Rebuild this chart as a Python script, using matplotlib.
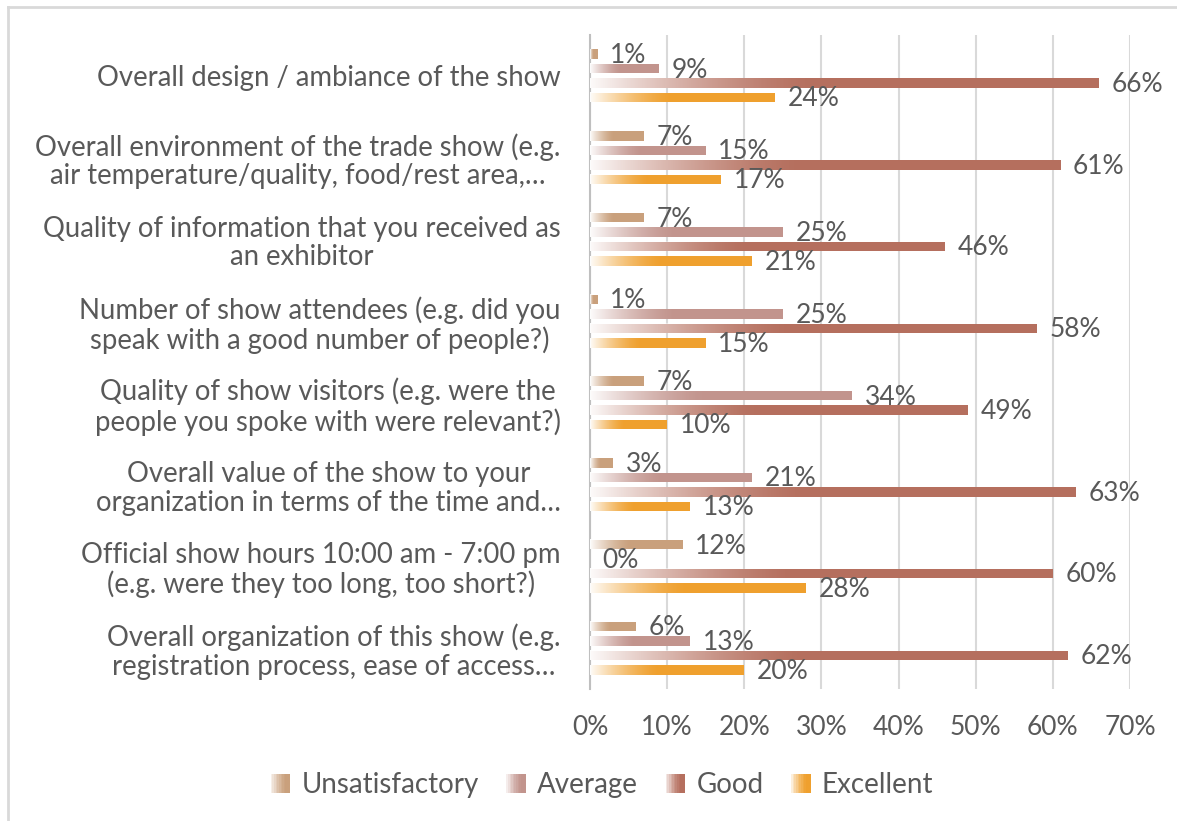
import numpy as np
import matplotlib
matplotlib.use("Agg")
import matplotlib.pyplot as plt
from matplotlib.patches import Rectangle, Patch
from matplotlib.lines import Line2D
from matplotlib.legend_handler import HandlerBase
from matplotlib.colors import to_rgb

categories = [
    "Overall design / ambiance of the show",
    "Overall environment of the trade show (e.g.\nair temperature/quality, food/rest area,…",
    "Quality of information that you received as\nan exhibitor",
    "Number of show attendees (e.g. did you\nspeak with a good number of people?)",
    "Quality of show visitors (e.g. were the\npeople you spoke with were relevant?)",
    "Overall value of the show to your\norganization in terms of the time and…",
    "Official show hours 10:00 am - 7:00 pm\n(e.g. were they too long, too short?)",
    "Overall organization of this show (e.g.\nregistration process, ease of access…",
]
series_names = ["Unsatisfactory", "Average", "Good", "Excellent"]
unsatisfactory = [0.01, 0.07, 0.07, 0.01, 0.07, 0.03, 0.12, 0.06]
average = [0.09, 0.15, 0.25, 0.25, 0.34, 0.21, 0.00, 0.13]
good = [0.66, 0.61, 0.46, 0.58, 0.49, 0.63, 0.60, 0.62]
excellent = [0.24, 0.17, 0.21, 0.15, 0.10, 0.13, 0.28, 0.20]
xticks = [0, 0.1, 0.2, 0.3, 0.4, 0.5, 0.6, 0.7]
xtick_labels = ["0%", "10%", "20%", "30%", "40%", "50%", "60%", "70%"]

colors = ["#C9A07C", "#C2948D", "#B56F5E", "#EFA02E"]
text_color = "#595959"
FONT = "Lato"
plt.rcParams["font.family"] = [FONT, "DejaVu Sans"]
FS_CAT = 19.8
FS = 19.0
FS_LEG = 20.0

W, H = 1177, 821
fig = plt.figure(figsize=(W / 100, H / 100), dpi=100)
ax = fig.add_axes([590 / W, 1 - 689 / H, (1130 - 590) / W, 654 / H])

series = [unsatisfactory, average, good, excellent]
n = len(categories)
y = np.arange(n)
slot = 0.177
bh = 0.117
offsets = [-1.5, -0.5, 0.5, 1.5]

ax.set_xlim(0, 0.70)
ax.set_ylim(n - 0.5, -0.5)

def grad_overlay(ax, x0, w, yb, h):
    if w <= 0:
        return
    N = 200
    t = np.linspace(0, 1, N)
    frac = 0.45
    a = np.clip(1 - t / frac, 0, 1) ** 1.5 * 0.97
    img = np.ones((1, N, 4))
    img[0, :, 3] = a
    ax.imshow(img, extent=[x0, x0 + w, yb + h, yb], aspect="auto",
              interpolation="bilinear", zorder=3)

for si, vals in enumerate(series):
    bars = ax.barh(y + offsets[si] * slot, vals, height=bh, color=colors[si],
                   zorder=2, linewidth=0)
    for b, v in zip(bars, vals):
        grad_overlay(ax, b.get_x(), b.get_width(), b.get_y(), b.get_height())
        ax.annotate(f"{v*100:.0f}%", (b.get_width(), b.get_y() + b.get_height() / 2),
                    xytext=(9, -1), textcoords="offset points", ha="left", va="center",
                    fontsize=FS, color=text_color, zorder=4)

ax.set_xlim(0, 0.70)
ax.set_ylim(n - 0.5, -0.5)
ax.set_xticks(xticks)
ax.set_xticklabels(xtick_labels)
ax.set_yticks(y)
ax.set_yticklabels(categories, multialignment="center", linespacing=1.12)
ax.tick_params(axis="x", length=0, pad=19, labelsize=FS, labelcolor=text_color)
ax.tick_params(axis="y", length=0, pad=21, labelsize=FS_CAT, labelcolor=text_color)
ax.grid(axis="x", color="#D9D9D9", linewidth=1.5, zorder=0)
ax.set_axisbelow(True)
for s in ["top", "right", "bottom"]:
    ax.spines[s].set_visible(False)
ax.spines["left"].set_color("#BFBFBF")
ax.spines["left"].set_linewidth(1.5)


class GradHandler(HandlerBase):
    def create_artists(self, legend, orig_handle, xdescent, ydescent, width, height, fontsize, trans):
        c = np.array(to_rgb(orig_handle.get_facecolor()))
        arts = []
        k = 12
        side = height * 1.0
        x0 = width - side
        for i in range(k):
            f = (i + 0.5) / k
            a = np.clip(1 - f / 0.8, 0, 1) ** 1.5 * 0.9
            col = c * (1 - a) + a
            r = Rectangle((x0 - xdescent + i * side / k, -ydescent), side / k + 0.05, side,
                          facecolor=col, edgecolor="none", transform=trans)
            arts.append(r)
        return arts

handles = [Patch(facecolor=c, label=nm) for c, nm in zip(colors, series_names)]
gh = GradHandler()
leg = fig.legend(handles, series_names, loc="center", bbox_to_anchor=(602 / W, 1 - 785 / H),
                 ncol=4, frameon=False, fontsize=FS_LEG, labelcolor=text_color,
                 handler_map={Patch: gh},
                 handlelength=0.7, handleheight=0.7, handletextpad=0.4, columnspacing=1.0)

# outer light border (top and left visible)
bx, by = 8 / W, 1 - 7 / H
fig.add_artist(Line2D([bx, bx], [0, by], transform=fig.transFigure, color="#D9D9D9", linewidth=2))
fig.add_artist(Line2D([bx, 1], [by, by], transform=fig.transFigure, color="#D9D9D9", linewidth=2))

fig.savefig("out.png", dpi=100, facecolor="white")
